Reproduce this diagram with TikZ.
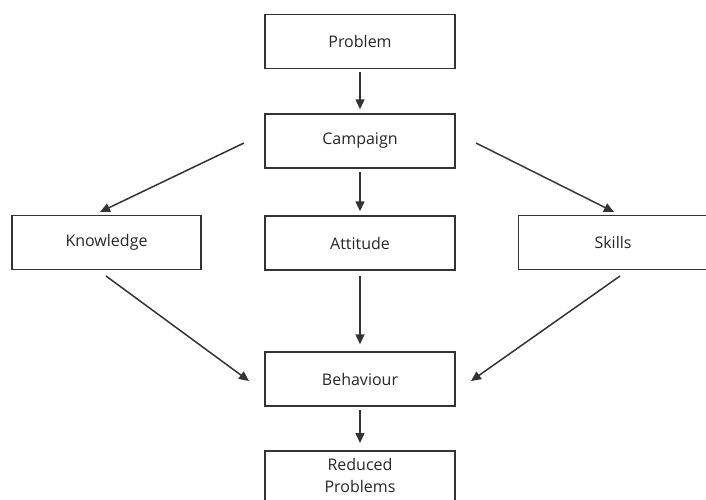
\documentclass[tikz,border=0pt]{standalone}
\usepackage{fontspec}
\setmainfont{Open Sans}
\usetikzlibrary{arrows.meta}
\begin{document}
\begin{tikzpicture}[x=1pt,y=-1pt,
  box/.style={draw=black!80,line width=1.5pt,minimum width=190pt,minimum height=54pt,inner sep=0pt,font=\fontsize{16}{22}\selectfont,text=black!85,align=center},
  sidebox/.style={box,minimum width=189pt},
  conn/.style={draw=black!80,line width=1.5pt,-{Triangle[length=10pt,width=9pt]}}]
\useasboundingbox (0,0) rectangle (706,499);
\node[box] (problem) at (360,41.5) {Problem};
\node[box] (campaign) at (360,141) {Campaign};
\node[sidebox] (knowledge) at (106.5,242.5) {Knowledge};
\node[box] (attitude) at (360,243) {Attitude};
\node[sidebox] (skills) at (613,242.5) {Skills};
\node[box] (behaviour) at (360,379) {Behaviour};
\node[box,minimum height=0pt,inner ysep=8pt,text depth=16pt,anchor=north] (reduced) at (360,450) {Reduced\\Problems};
\coordinate (cL) at (244,143);
\coordinate (cR) at (476,143);
\coordinate (kT) at (100,212);
\coordinate (sT) at (614,212);
\coordinate (kB) at (106,276);
\coordinate (sB) at (620,276);
\coordinate (bL) at (249,381);
\coordinate (bR) at (471,381);
\draw[conn] ([yshift=-3pt]problem.south) -- ([yshift=4pt]campaign.north);
\draw[conn] (cL) -- (kT);
\draw[conn] (cR) -- (sT);
\draw[conn] ([yshift=-3pt]campaign.south) -- ([yshift=4pt]attitude.north);
\draw[conn] (kB) -- (bL);
\draw[conn] (sB) -- (bR);
\draw[conn] ([yshift=-5pt]attitude.south) -- ([yshift=7pt]behaviour.north);
\draw[conn] ([yshift=-3pt]behaviour.south) -- ([yshift=7pt]reduced.north);
\end{tikzpicture}
\end{document}
